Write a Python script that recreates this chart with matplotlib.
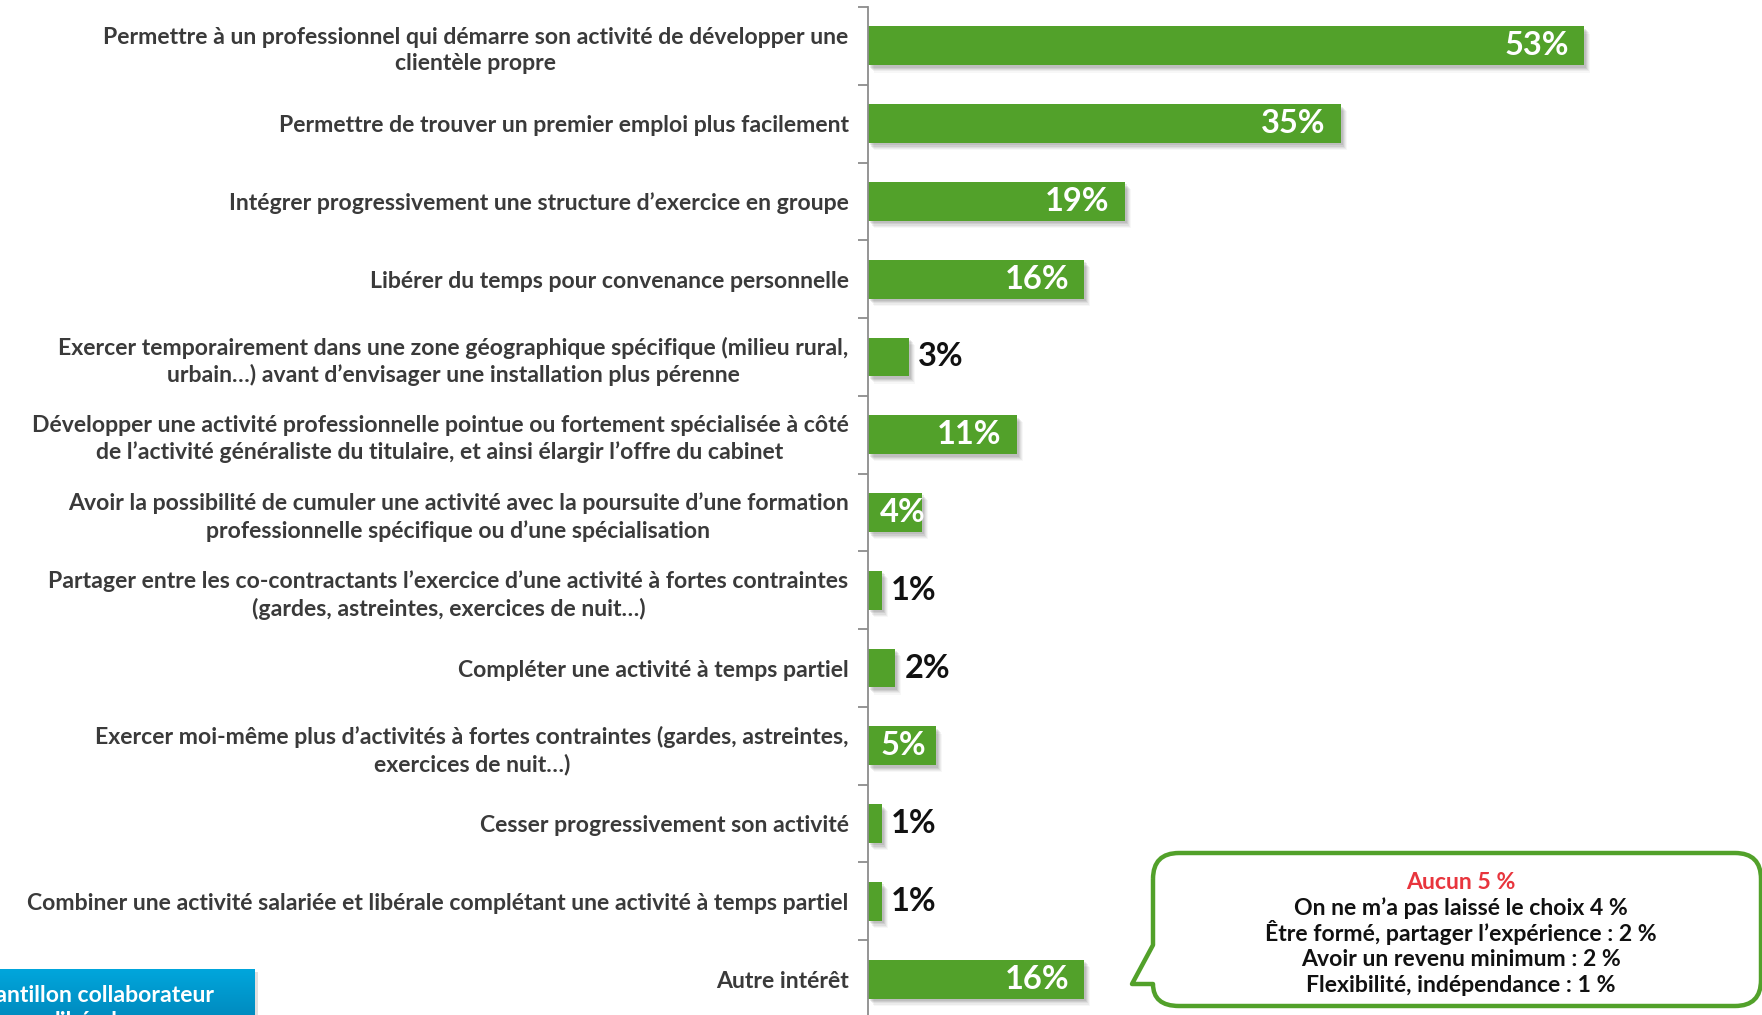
import numpy as np
import matplotlib.pyplot as plt
from matplotlib.path import Path
from matplotlib.patches import PathPatch, Rectangle
from matplotlib.colors import LinearSegmentedColormap
from matplotlib.transforms import ScaledTranslation

labels = [
    "Permettre à un professionnel qui démarre son activité de développer une\nclientèle propre",
    "Permettre de trouver un premier emploi plus facilement",
    "Intégrer progressivement une structure d’exercice en groupe",
    "Libérer du temps pour convenance personnelle",
    "Exercer temporairement dans une zone géographique spécifique (milieu rural,\nurbain…) avant d’envisager une installation plus pérenne",
    "Développer une activité professionnelle pointue ou fortement spécialisée à côté\nde l’activité généraliste du titulaire, et ainsi élargir l’offre du cabinet",
    "Avoir la possibilité de cumuler une activité avec la poursuite d’une formation\nprofessionnelle spécifique ou d’une spécialisation",
    "Partager entre les co-contractants l’exercice d’une activité à fortes contraintes\n(gardes, astreintes, exercices de nuit…)",
    "Compléter une activité à temps partiel",
    "Exercer moi-même plus d’activités à fortes contraintes (gardes, astreintes,\nexercices de nuit…)",
    "Cesser progressivement son activité",
    "Combiner une activité salariée et libérale complétant une activité à temps partiel",
    "Autre intérêt",
]
values = [53, 35, 19, 16, 3, 11, 4, 1, 2, 5, 1, 1, 16]

other_title = "Aucun 5 %"
other_lines = [
    "On ne m’a pas laissé le choix 4 %",
    "Être formé, partager l’expérience : 2 %",
    "Avoir un revenu minimum : 2 %",
    "Flexibilité, indépendance : 1 %",
]

GREEN = "#52a12a"
W, H = 1762, 1015
FONT = "Lato"
AX_LEFT = 868

fig = plt.figure(figsize=(W / 100, H / 100), dpi=100)
ax = fig.add_axes([AX_LEFT / W, -3 / H, 1 - AX_LEFT / W, 1011 / H])

y = np.arange(len(values))

# soft drop shadow under each bar
for k, a in enumerate([0.10, 0.10, 0.08, 0.06, 0.04]):
    d = (2 + k) / 100
    sh = ax.transData + ScaledTranslation(d, -d * 1.2, fig.dpi_scale_trans)
    ax.barh(y, values, height=0.5, color="#404040", alpha=a, transform=sh, zorder=1)
ax.barh(y, values, height=0.5, color=GREEN, zorder=2)

for yi, v in zip(y, values):
    kw = dict(va="center", fontsize=23.5, fontweight="bold", family=FONT, zorder=3)
    if v <= 3:
        ax.text(v + 0.7, yi, f"{v}%", ha="left", color="#111111", **kw)
    elif v <= 5:
        ax.text(0.9, yi, f"{v}%", ha="left", color="white", **kw)
    else:
        ax.text(v - 1.1, yi, f"{v}%", ha="right", color="white", **kw)

ax.set_xlim(0, (W - AX_LEFT) / 13.5)
ax.set_ylim(len(values) - 0.5, -0.5)
for s in ["top", "right", "bottom"]:
    ax.spines[s].set_visible(False)
ax.spines["left"].set_color("#8c8c8c")
ax.spines["left"].set_linewidth(1.3)
ax.set_xticks([])
ax.set_yticks(y)
ax.set_yticklabels(labels, fontsize=16.6, fontweight="bold", family=FONT,
                   color="#3a3a3a", linespacing=1.3, multialignment="center")
ax.set_yticks(np.arange(-0.5, len(values), 1), minor=True)
ax.tick_params(axis="y", which="major", length=0, pad=14)
ax.tick_params(axis="y", which="minor", length=7, width=1.3, color="#8c8c8c")

# overlay in pixel coordinates for the callout and the sample box
ov = fig.add_axes([0, 0, 1, 1])
ov.axis("off")

x0, x1, y0, y1, r = 1153, 1761, 853, 1006, 26
verts = [
    (x0, y0 + r), (x0, 945), (1132, 984), (x0, 984),
    (x0, y1), (x0 + r, y1),
    (x1 - r, y1), (x1, y1), (x1, y1 - r),
    (x1, y0 + r), (x1, y0), (x1 - r, y0),
    (x0 + r, y0), (x0, y0), (x0, y0 + r),
]
codes = [Path.MOVETO, Path.LINETO, Path.LINETO, Path.LINETO,
         Path.CURVE3, Path.CURVE3,
         Path.LINETO, Path.CURVE3, Path.CURVE3,
         Path.LINETO, Path.CURVE3, Path.CURVE3,
         Path.LINETO, Path.CURVE3, Path.CURVE3]
ov.add_patch(PathPatch(Path(verts, codes), facecolor="white", edgecolor=GREEN,
                       lw=3.2, joinstyle="round", clip_on=False))

cx = 1461
for i, line in enumerate([other_title] + other_lines):
    ov.text(cx, 889 + i * 25.8, line, ha="center", va="baseline",
            color="#e8353d" if i == 0 else "#111111",
            fontsize=16.6, fontweight="bold", family=FONT)

# sample box, bottom left
ov.add_patch(Rectangle((3, 972), 255, 60, color="#000000", alpha=0.12, lw=0))
grad = np.linspace(0, 1, 64).reshape(-1, 1)
ov.imshow(grad, extent=(-5, 255, 1020, 969), aspect="auto", zorder=2,
          cmap=LinearSegmentedColormap.from_list("b", ["#00a6dc", "#0089bd"]))
ov.text(214, 984, "Échantillon collaborateur\nlibéral", ha="right", va="top",
        color="white", fontsize=16.6, fontweight="bold", family=FONT,
        linespacing=1.3, multialignment="center", zorder=3)
ov.set_xlim(0, W)
ov.set_ylim(H, 0)

fig.savefig("out.png", dpi=100)
